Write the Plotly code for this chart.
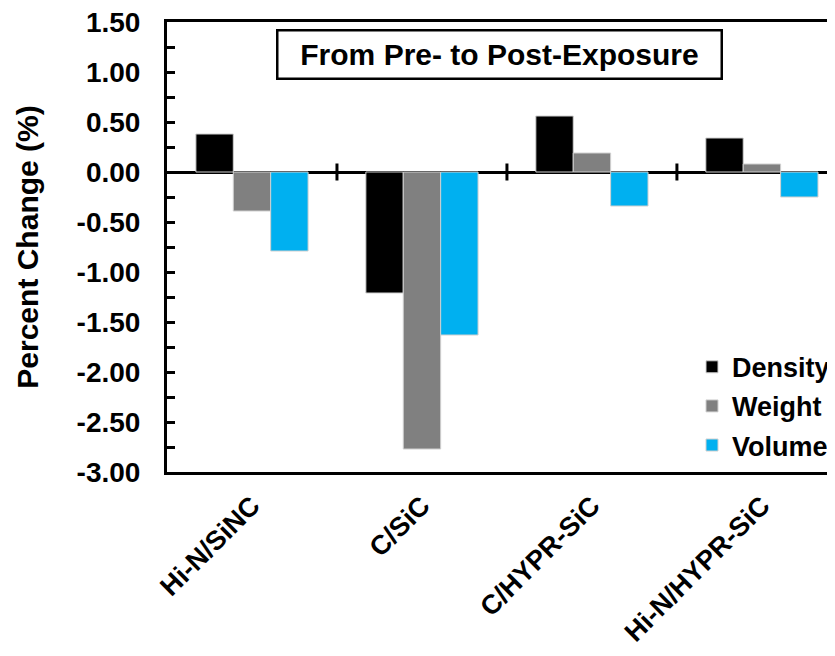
#percent change chart, pre- to post-exposure
import plotly.graph_objects as go

#data
categories = ['Hi-N/SiNC', 'C/SiC', 'C/HYPR-SiC', 'Hi-N/HYPR-SiC']
density = [0.38, -1.21, 0.56, 0.34]
weight = [-0.39, -2.77, 0.19, 0.08]
volume = [-0.79, -1.63, -0.34, -0.25]

series_names = ['Density', 'Weight', 'Volume']
series_colors = ['#000000', '#808080', '#00B0F0']

#y tick labels, written with a plain hyphen like the original
y_ticks = [-3.0, -2.5, -2.0, -1.5, -1.0, -0.5, 0.0, 0.5, 1.0, 1.5]
y_ticktext = [f'{v:.2f}' for v in y_ticks]

FONT = 'Liberation Sans, Arial, sans-serif'

fig = go.Figure()

for name, vals, col in zip(series_names, [density, weight, volume], series_colors):
    fig.add_trace(go.Bar(
        x=categories,
        y=vals,
        name=name,
        legendgroup=name,
        marker=dict(color=col, line=dict(color='#d0d0d0', width=1))
    ))

#crossing tick marks on the zero line between categories
shapes = []
for i in range(len(categories) - 1):
    shapes.append(dict(type='line', xref='x', yref='y',
                       x0=i + 0.5, x1=i + 0.5, y0=-0.085, y1=0.085,
                       line=dict(color='black', width=3)))

# page body has an 8px margin, so the figure is shrunk by 8px and margins shifted
fig.update_layout(
    width=827, height=648,
    margin=dict(l=159, r=0, t=14, b=184),
    paper_bgcolor='white',
    plot_bgcolor='white',
    barmode='group',
    bargap=0.34,
    bargroupgap=0,
    showlegend=True,
    shapes=shapes,
    font=dict(family=FONT, color='black', size=28, weight='bold'),
    legend=dict(
        x=1.0, xanchor='right',
        y=0.005, yanchor='bottom',
        bgcolor='rgba(0,0,0,0)',
        font=dict(size=27, family=FONT, weight='bold'),
        traceorder='grouped',
        tracegroupgap=1,
        itemwidth=30
    ),
    xaxis=dict(
        type='category',
        range=[-0.5, 3.43],
        automargin=False,
        showline=True, linecolor='black', linewidth=3, mirror=True,
        ticks='', tickangle=-45,
        tickfont=dict(size=27, family=FONT, weight='bold'),
        ticklabelstandoff=4,
        showgrid=False
    ),
    yaxis=dict(
        range=[-3.0, 1.5],
        tickmode='array', tickvals=y_ticks, ticktext=y_ticktext,
        ticklabeloverflow='allow',
        showline=True, linecolor='black', linewidth=3,
        ticks='inside', ticklen=8, tickwidth=3, tickcolor='black',
        minor=dict(dtick=0.25, tick0=0, ticks='inside', ticklen=8, tickwidth=3, tickcolor='black'),
        tickfont=dict(size=28, family=FONT, weight='bold'),
        ticklabelstandoff=18,
        showgrid=False,
        zeroline=True, zerolinecolor='black', zerolinewidth=3,
        title=dict(text='Percent Change (%)', standoff=30,
                   font=dict(size=30, family=FONT, weight='bold'))
    ),
    annotations=[dict(
        text='From Pre- to Post-Exposure',
        xref='paper', yref='paper',
        x=0.4985, y=0.928, xanchor='center', yanchor='middle',
        showarrow=False,
        font=dict(size=30, family=FONT, weight='bold', color='black'),
        bordercolor='black', borderwidth=2.5,
        bgcolor='white',
        width=440, height=44
    )]
)

fig.write_html("out.html")
